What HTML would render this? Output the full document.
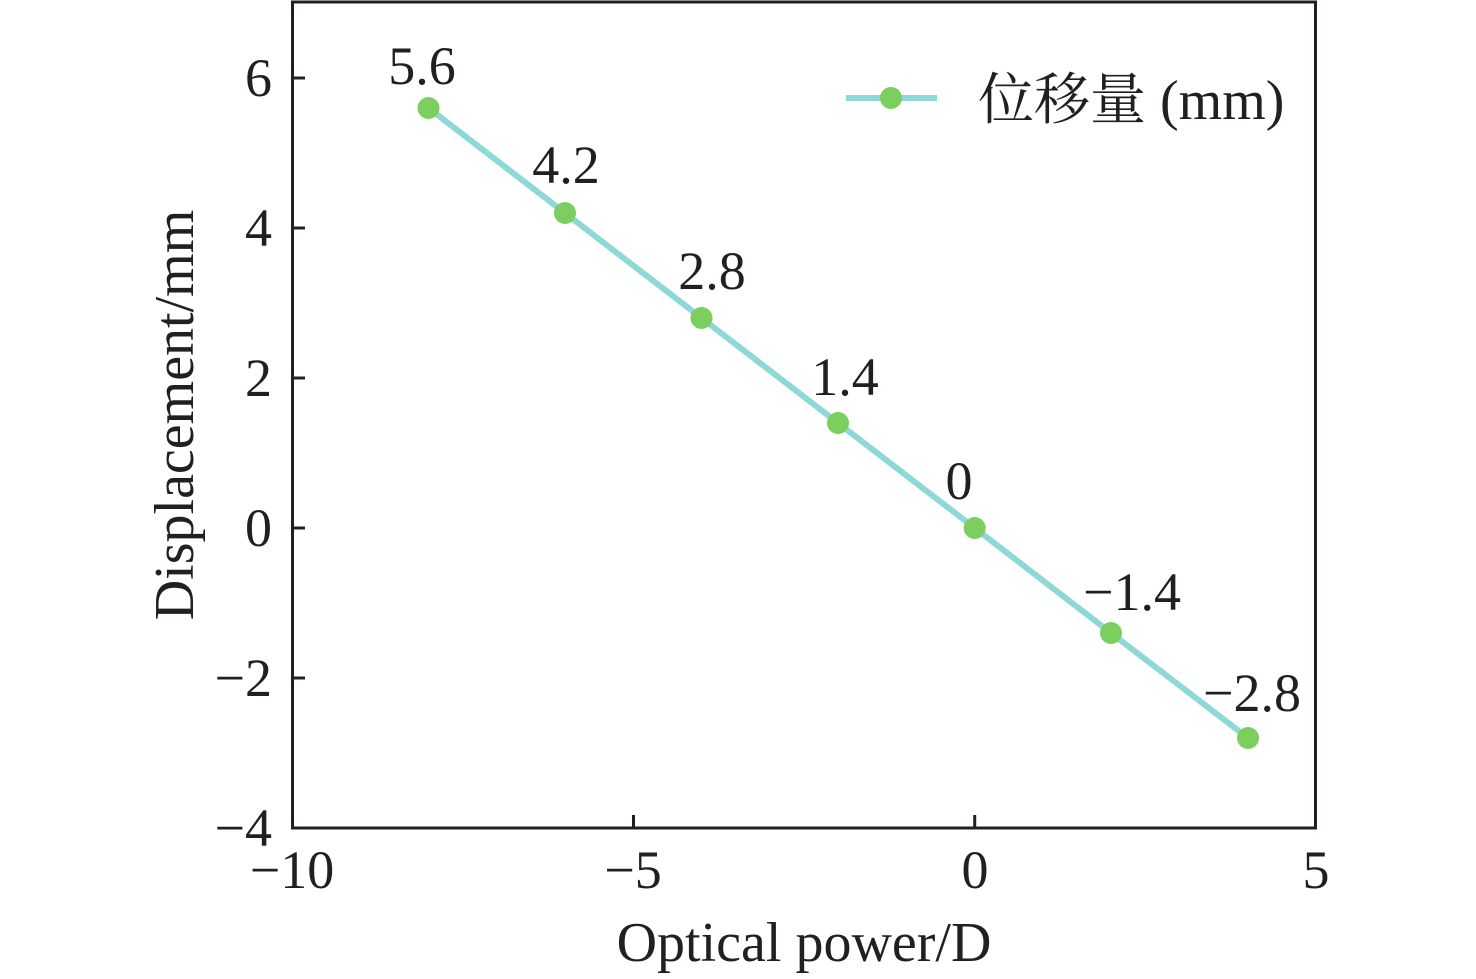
<!DOCTYPE html>
<html><head><meta charset="utf-8"><style>html,body{margin:0;padding:0;background:#fff}svg{display:block}</style></head><body>
<svg width="1476" height="979" xmlns="http://www.w3.org/2000/svg" font-family="Liberation Serif, Noto Serif CJK SC, serif" fill="#231f20">
<rect x="292.5" y="2" width="1023" height="826" fill="none" stroke="#231f20" stroke-width="3"/>
<g stroke="#231f20" stroke-width="3">
<line x1="633.5" y1="828" x2="633.5" y2="815"/>
<line x1="974.7" y1="828" x2="974.7" y2="815"/>
<line x1="292" y1="78" x2="305" y2="78"/>
<line x1="292" y1="228" x2="305" y2="228"/>
<line x1="292" y1="378" x2="305" y2="378"/>
<line x1="292" y1="528" x2="305" y2="528"/>
<line x1="292" y1="678" x2="305" y2="678"/>
</g>
<g font-size="54" text-anchor="end">
<text x="272" y="96">6</text>
<text x="272" y="246">4</text>
<text x="272" y="396">2</text>
<text x="272" y="546">0</text>
<text x="272" y="696">−2</text>
<text x="272" y="846">−4</text>
</g>
<g font-size="54" text-anchor="middle">
<text x="292" y="888">−10</text>
<text x="633" y="888">−5</text>
<text x="975" y="888">0</text>
<text x="1316" y="888">5</text>
</g>
<text x="804" y="961" font-size="56" text-anchor="middle">Optical power/D</text>
<text transform="translate(193,415) rotate(-90)" font-size="56" text-anchor="middle">Displacement/mm</text>
<polyline points="428.5,108 565,213 701.5,318 838,423 974.7,528 1111,633 1248,738" fill="none" stroke="#8ed8d8" stroke-width="6"/>
<g fill="#7ccf5e">
<circle cx="428.5" cy="108" r="11"/><circle cx="565" cy="213" r="11"/><circle cx="701.5" cy="318" r="11"/><circle cx="838" cy="423" r="11"/><circle cx="974.7" cy="528" r="11"/><circle cx="1111" cy="633" r="11"/><circle cx="1248" cy="738" r="11"/>
</g>
<g font-size="54" text-anchor="middle">
<text x="422" y="84">5.6</text>
<text x="566" y="183">4.2</text>
<text x="712" y="289">2.8</text>
<text x="845" y="395">1.4</text>
<text x="959" y="499">0</text>
<text x="1132" y="610">−1.4</text>
<text x="1252" y="711">−2.8</text>
</g>
<line x1="846" y1="98" x2="937" y2="98" stroke="#8ed8d8" stroke-width="6"/>
<circle cx="891" cy="98" r="11" fill="#7ccf5e"/>
<text x="978" y="119" font-size="56">位移量 (mm)</text>
</svg>
</body></html>
